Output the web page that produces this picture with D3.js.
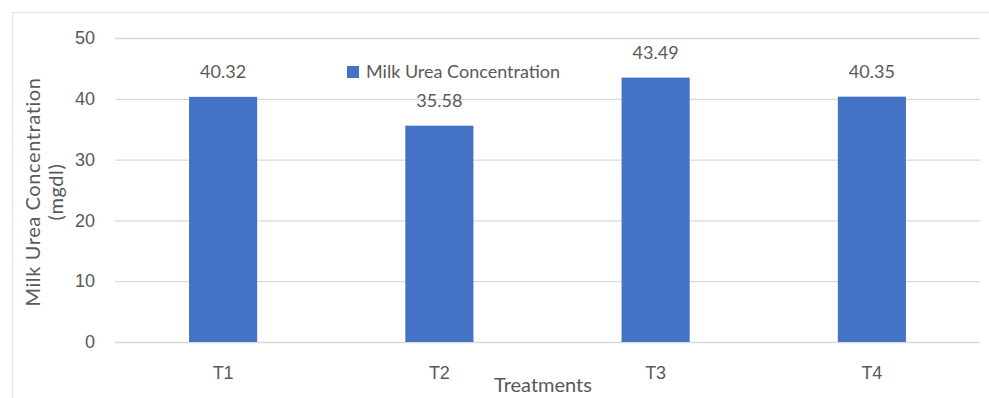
<!DOCTYPE html>
<html>
<head>
<meta charset="utf-8">
<script src="https://cdn.jsdelivr.net/npm/d3@7"></script>
<style>
  html, body { margin: 0; padding: 0; background: #fff; }
  svg { display: block; font-family: Lato, "Open Sans", sans-serif; }
</style>
</head>
<body>
<svg id="chart" width="989" height="398"></svg>
<script>
// Milk urea concentration by treatment
const categories = ["T1", "T2", "T3", "T4"];
const values = [40.32, 35.58, 43.49, 40.35];
const yTicks = [0, 10, 20, 30, 40, 50];
const seriesName = "Milk Urea Concentration";
const xTitle = "Treatments";
const yTitleLines = ["Milk Urea Concentration", "(mgdl)"];

const W = 989, H = 398;
const margin = { top: 38, right: 9, bottom: 56, left: 115 };
const textColor = "#595959";
const gridColor = "#d9d9d9";
const barColor = "#4472C4";

const svg = d3.select("#chart");

// outer chart frame
svg.append("rect")
  .attr("x", 12.5).attr("y", 12.5)
  .attr("width", W + 20).attr("height", H + 20)
  .attr("fill", "none").attr("stroke", "#e3e3e3").attr("stroke-width", 1.2);

const x = d3.scaleBand()
  .domain(categories)
  .range([margin.left, W - margin.right])
  .paddingInner(0.685)
  .paddingOuter(0.3425);

const y = d3.scaleLinear()
  .domain([0, 50])
  .range([H - margin.bottom, margin.top]);

// gridlines + y tick labels
const yAxis = d3.axisLeft(y)
  .tickValues(yTicks)
  .tickSize(-(W - margin.right - margin.left))
  .tickPadding(20)
  .tickFormat(d3.format("d"));

const gy = svg.append("g")
  .attr("transform", `translate(${margin.left},0)`)
  .call(yAxis);
gy.select(".domain").remove();
gy.selectAll(".tick line").attr("stroke", gridColor).attr("stroke-width", 1.3);
gy.selectAll(".tick text")
  .attr("fill", textColor).attr("font-size", 18);

// bars
svg.append("g").selectAll("rect")
  .data(values)
  .join("rect")
  .attr("x", (d, i) => x(categories[i]))
  .attr("y", d => y(d))
  .attr("width", x.bandwidth())
  .attr("height", d => y(0) - y(d))
  .attr("fill", barColor);

// value labels
svg.append("g").selectAll("text")
  .data(values)
  .join("text")
  .attr("x", (d, i) => x(categories[i]) + x.bandwidth() / 2)
  .attr("y", d => y(d) - 19)
  .attr("text-anchor", "middle")
  .attr("fill", textColor)
  .attr("font-size", 18)
  .text(d => d.toFixed(2));

// category axis labels
const xAxis = d3.axisBottom(x).tickSize(0).tickPadding(24);
const gx = svg.append("g")
  .attr("transform", `translate(0,${y(0)})`)
  .call(xAxis);
gx.select(".domain").remove();
gx.selectAll(".tick text")
  .attr("fill", textColor).attr("font-size", 18);

// axis titles
svg.append("text")
  .attr("x", 543).attr("y", 392)
  .attr("text-anchor", "middle")
  .attr("fill", textColor).attr("font-size", 20)
  .text(xTitle);

const yTitle = svg.append("text")
  .attr("transform", `translate(40,${(y(0) + y(50)) / 2 + 2}) rotate(-90)`)
  .attr("text-anchor", "middle")
  .attr("fill", textColor).attr("font-size", 20)
  .attr("letter-spacing", 0.6);
yTitle.selectAll("tspan")
  .data(yTitleLines)
  .join("tspan")
  .attr("x", 0)
  .attr("dy", (d, i) => i === 0 ? 0 : 23)
  .text(d => d);

// legend
const legend = svg.append("g").attr("transform", "translate(347,66)");
legend.append("rect")
  .attr("width", 12).attr("height", 12)
  .attr("fill", barColor);
legend.append("text")
  .attr("x", 19).attr("y", 11.5)
  .attr("fill", textColor).attr("font-size", 18)
  .text(seriesName);
</script>
</body>
</html>
